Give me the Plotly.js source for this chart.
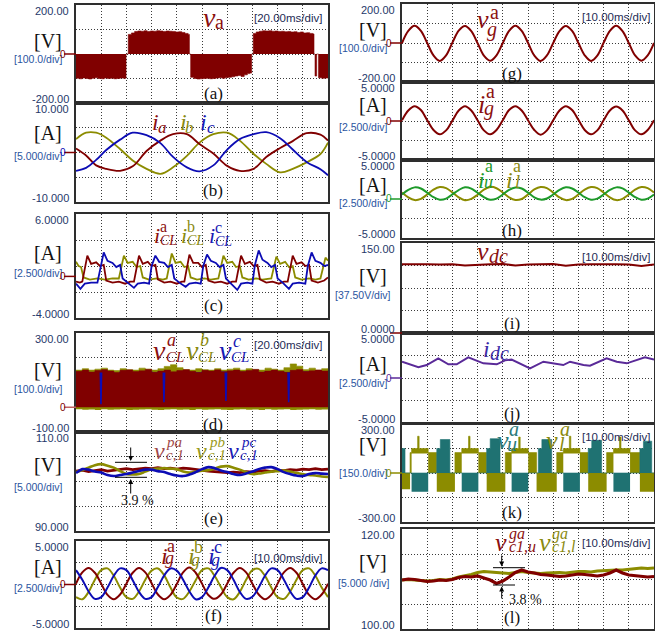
<!DOCTYPE html>
<html><head><meta charset="utf-8">
<script src="https://cdn.plot.ly/plotly-3.0.1.min.js"></script>
<style>html,body{margin:0;padding:0;background:#fff;}#chart{width:655px;height:631px;}</style>
</head><body><div id="chart"></div>
<script>
// ================= DATA =================
// (a) phase voltage v_a envelope of the PWM band [ms, V]
const vaT = [0,2.5,5,7.5,10,12.5,15,17.5,20,22.5,25,27.5,30,32.5,35,37.5,39.7,
  41.5,44,46.5,49,51.5,54,56.5,59,61.5,64,66.5,69,71.5,74,76.5,79,81.5,84,86.5,89,90,
  91,93.5,96,98.5,101,103.5,106,108.5,111,113.5,116,118.5,121,123.5,126,128.5,131,133.5,136,138,139.4,
  140.7,143,145.5,148,150.5,153,155.5,158,160.5,163,165.5,168,170.5,173,175.5,178,180.5,183,185.5,188,188.9,
  189.7,191,192.5,195,197.5,200];
const vaV = [-99,-101,-98,-100,-102,-99,-97,-100,-101,-98,-100,-99,-101,-100,-98,-99,0,
  80,86,92,94,93,95,92,94,93,95,94,92,94,93,92,90,91,88,84,80,0,
  -95,-100,-102,-101,-100,-99,-101,-100,-98,-97,-99,-96,-95,-93,-90,-88,-92,-85,-80,-78,0,
  84,90,93,95,94,95,93,94,92,93,91,92,90,91,88,90,86,87,84,82,0,
  -90,0,-97,-99,-98,-98];
// (b) converter currents [ms, A]
const bT  = [0,8,16,24,35,45,56,67,77,88,98,109,120,130,141,151,162,172,183,194,200];
const iaB = [0.8,-0.6,-2.6,-3.3,-3.7,-2.8,0.3,2.4,3.7,3.7,1.7,-0.2,-2.7,-3.7,-3.3,-0.9,0.9,2.3,3.9,3.6,2.4];
const ibB = [2.7,4.0,4.0,3.0,0.7,-1.6,-3.3,-4.3,-3.0,-0.7,2.0,3.7,4.0,2.4,-0.3,-2.3,-4.0,-3.3,-2.0,-0.3,2.0];
const icB = [-3.7,-3.1,-1.5,0.5,2.6,4.0,3.5,1.9,-0.9,-3.0,-3.8,-2.6,0.6,2.7,3.7,4.1,2.9,0.6,-1.9,-3.4,-4.6];
// (c) CL currents [ms, A]
const cTa  = [0,3,5,9,12,16,19,22,24,29,34,39,43,46,50,53,57,60,63,65,70,75,80,84,86,90,93,97,100,103,105,110,115,120,124,127,131,134,138,141,144,146,151,156,161,165,168,172,175,179,182,185,187,192,197,200];
const iCLa = [-0.5,-0.6,-0.5,2.0,1.2,1.35,1.0,1.1,-0.4,-0.6,-0.5,-0.7,-0.5,-0.5,2.0,1.2,1.4,1.0,1.1,-0.3,-0.6,-0.5,-0.7,-0.5,-0.5,2.1,1.3,1.3,0.9,1.1,-0.4,-0.6,-0.5,-0.7,-0.5,-0.5,2.0,1.2,1.4,1.0,1.1,-0.3,-0.6,-0.5,-0.7,-0.5,-0.5,2.0,1.2,1.35,1.0,1.1,-0.4,-0.6,-0.4,-0.1];
const cTb  = [0,2,4,6,11,17,23,29,34,38,41,45,48,51,53,58,64,69,72,76,79,83,86,89,91,96,102,107,113,117,120,124,127,130,132,137,143,148,155,159,162,166,169,172,174,179,185,190,194,198,200];
const iCLb = [1.4,1.0,0.9,-0.1,-0.3,-0.2,-0.3,-0.2,-0.2,2.0,1.3,1.4,0.9,1.0,-0.1,-0.3,-0.2,-0.3,-0.2,2.2,1.3,1.4,0.9,1.0,-0.1,-0.3,-0.2,-0.3,-0.2,2.0,1.3,1.4,0.9,1.0,-0.1,-0.3,-0.2,-0.3,-0.2,1.9,1.2,1.4,0.9,1.0,-0.1,-0.3,-0.2,-0.3,-0.2,1.8,1.5];
const cTc  = [0,3.5,7,12,17,20,22,25,29,32,35,37,41,46,49,54,58,60,63,66,70,73,76,78,82,87,90,95,99,101,104,107,111,114,117,119,123,128,131,136,140,142,145,148,152,155,158,160,164,169,172,177,182,184,187,190,194,197,200];
const iCLc = [-0.7,-1.2,-0.7,-0.6,-0.6,1.0,2.3,1.5,1.3,0.9,1.1,-0.2,-0.6,-1.1,-0.7,-0.6,-0.7,1.0,2.0,1.4,1.3,0.9,1.1,-0.2,-0.6,-1.0,-0.7,-0.6,-0.7,1.0,2.1,1.5,1.3,0.9,1.1,-0.2,-0.7,-1.3,-0.7,-0.6,-0.7,1.1,2.5,1.6,1.3,0.9,1.1,-0.2,-0.6,-1.2,-0.7,-0.6,-0.7,1.0,2.3,1.5,1.3,1.0,1.1];
// (d) CL voltages (PWM bands) [ms, V]
const dT = [0,5,10,15,20,25,30,35,40,45,50,55,60,65,70,75,80,85,90,95,100,105,110,115,120,125,130,135,140,145,150,155,160,165,170,175,180,185,190,195,200];
const vCLaTop = [145,150,142,148,152,146,140,149,151,144,147,153,141,146,150,143,148,152,145,140,149,146,151,143,147,150,144,148,153,142,146,150,145,141,149,152,144,147,150,146,148];
const vCLbTop = [150,156,150,154,158,150,148,156,152,150,158,154,150,156,165,172,160,152,150,156,152,150,156,150,154,158,150,156,152,150,158,154,150,160,175,166,152,158,150,156,152];
const vCLbBot = [-8,-10,-9,-11,-8,-10,-9,-8,-11,-10,-9,-8,-10,-11,-9,-8,-10,-9,-11,-8,-10,-9,-8,-10,-11,-9,-8,-10,-9,-11,-8,-10,-9,-8,-11,-10,-9,-8,-10,-9,-10];
const vCLc    = [138,140,136,139,141,137,135,140,138,136,139,141,137,140,138,135,139,141,136,138,140,137,139,141,138,136,140,138,135,139,141,137,140,138,136,139,141,137,138,140,139];
const vCLcSpkT = [19.3,19.8,20.3,null,69.3,69.8,70.3,null,118.5,119,119.5,null,168.3,168.8,169.3];
const vCLcSpkV = [140,12,140,null,140,20,140,null,140,25,140,null,140,20,140];
// (e) capacitor voltages [ms, V]
const eT = dT;
const vPa = [102.1,102.3,102.0,102.2,102.4,102.1,102.3,102.5,102.6,102.4,102.5,102.7,102.6,102.8,102.6,102.7,102.5,102.7,102.6,102.4,102.3,102.1,102.0,101.9,101.8,101.9,101.8,102.0,101.9,102.1,102.2,102.0,102.3,102.2,102.4,102.3,102.5,102.4,102.6,102.4,102.5];
const vPb = [101.9,102.3,102.8,103.3,103.5,103.2,102.8,102.1,101.5,101.4,101.5,102.0,102.5,102.6,102.7,102.6,102.5,102.0,101.8,102.0,102.2,102.3,102.6,103.0,103.1,102.8,102.4,101.9,101.5,101.6,101.8,102.0,102.1,102.2,102.0,101.7,101.5,101.3,101.2,101.0,100.9];
const vPc = [101.7,102.5,102.4,102.0,101.8,101.3,101.1,101.3,101.5,101.8,102.1,102.4,102.4,102.1,101.9,101.5,101.2,101.1,101.4,101.9,102.5,102.9,102.7,102.2,101.9,101.5,101.3,101.6,102.0,102.5,102.8,102.9,102.5,101.9,101.5,101.2,101.1,101.5,101.7,101.6,101.5];
// (f) grid currents [ms, A]
const fT = [0,2.5,5,7.5,10,12.5,15,17.5,20,22.5,25,27.5,30,32.5,35,37.5,40,42.5,45,47.5,50,52.5,55,57.5,60,62.5,65,67.5,70,72.5,75,77.5,80,82.5,85,87.5,90,92.5,95,97.5,100];
const igA = [0.1,1.4,1.9,1.35,0.1,-1.2,-1.7,-1.15,0.1,1.35,1.9,1.4,0.15,-1.15,-1.7,-1.2,0.05,1.4,1.95,1.35,0.1,-1.2,-1.65,-1.15,0.1,1.35,1.9,1.4,0.1,-1.15,-1.7,-1.2,0.1,1.4,1.9,1.35,0.05,-1.2,-1.7,-1.15,0.1];
const igB = [-1.45,-1.7,-0.85,0.55,1.65,1.85,1.0,-0.35,-1.45,-1.65,-0.8,0.55,1.6,1.85,1.05,-0.35,-1.5,-1.65,-0.8,0.5,1.65,1.85,1.0,-0.3,-1.45,-1.7,-0.85,0.55,1.65,1.8,1.0,-0.35,-1.45,-1.65,-0.8,0.55,1.65,1.85,1.0,-0.35,-1.45];
const igC = [1.65,0.55,-0.8,-1.65,-1.45,-0.35,1.0,1.85,1.65,0.5,-0.85,-1.65,-1.45,-0.3,1.05,1.85,1.6,0.55,-0.8,-1.7,-1.45,-0.35,1.0,1.9,1.65,0.55,-0.85,-1.65,-1.4,-0.35,1.0,1.85,1.65,0.55,-0.8,-1.65,-1.45,-0.35,1.05,1.85,1.65];
// (g) grid voltage and current, phase a [ms]
const gT = fT;
const vgA  = [0,62,88,62,0,-64,-92,-64,2,63,87,61,-1,-65,-91,-63,0,62,88,62,1,-64,-92,-64,0,61,87,62,0,-63,-92,-65,1,62,88,61,0,-64,-91,-64,0];
const igRA = [0.1,1.35,1.9,1.4,0.1,-1.15,-1.7,-1.2,0.05,1.35,1.9,1.35,0.1,-1.2,-1.7,-1.15,0.1,1.4,1.9,1.35,0.1,-1.15,-1.75,-1.2,0.1,1.35,1.9,1.4,0.15,-1.15,-1.7,-1.2,0.1,1.35,1.85,1.35,0.1,-1.2,-1.7,-1.15,0.1];
// (h) arm currents [ms, A]
const iuA = [0.58,1.17,1.49,1.35,0.82,0.23,-0.09,0.05,0.6,1.15,1.5,1.33,0.8,0.25,-0.1,0.05,0.58,1.18,1.48,1.35,0.82,0.22,-0.08,0.06,0.57,1.17,1.5,1.35,0.83,0.23,-0.09,0.04,0.58,1.16,1.49,1.36,0.82,0.24,-0.09,0.05,0.58];
const ilA = [0.83,0.2,-0.14,0.01,0.57,1.2,1.54,1.39,0.85,0.22,-0.15,0.02,0.55,1.2,1.55,1.38,0.83,0.2,-0.13,0.0,0.57,1.22,1.54,1.4,0.82,0.2,-0.14,0.01,0.58,1.2,1.53,1.39,0.83,0.21,-0.14,0.02,0.57,1.2,1.54,1.39,0.83];
// (i) dc voltage [ms, V]
const iT  = [0,5,10,15,20,25,30,35,40,45,50,55,60,65,70,75,80,85,90,95,100];
const vdc = [114.5,115,114.5,114,114.5,112.5,114,114.5,115,112.5,114,114.5,115,112,114,114.5,115,114.5,114,111.5,114];
// (j) dc current [ms, A]
const jT  = [0,6.5,9.8,14.4,18.4,21.7,26.3,32.3,37.6,40.9,43.5,50.8,56.1,60.1,64,66.7,72,74.6,81.2,85.2,89.2,96.4,100];
const idc = [1.81,1.19,1.44,2.19,1.52,1.52,2.3,1.63,1.52,1.96,2.04,1.07,1.81,1.63,1.44,1.81,1.44,1.37,2.19,1.81,1.63,2.3,2.04];
// (k) arm voltages (PWM blocks) [ms, V]
const kTu  = [0,1.2,3.8,10.4,13.8,15.2,19.0,23.7,30.3,33.6,35.0,38.9,43.5,50.1,54.1,55.5,59.4,64,70.6,73.9,75.3,79.2,83.9,90.5,94.4,95.8,99.1,100];
const vuHi = [150,0,0,0,150,205,0,0,0,150,210,0,0,0,150,205,0,0,0,150,200,0,0,0,150,195,0,0];
const vuLo = [0,0,-115,0,0,0,0,-115,0,0,0,0,-115,0,0,0,0,-115,0,0,0,0,-115,0,0,0,0,0];
const kTl  = [0,3.2,3.8,6.2,6.8,10.4,13.8,21,23.7,26.4,27,30.3,33.6,41,43.5,46.3,46.9,50.1,53.4,61.4,64,66.4,67,70.6,73.9,81.2,83.9,86.3,86.9,90.5,94.4,100];
const vlHi = [0,125,150,225,150,125,0,125,150,225,150,125,0,125,150,220,150,125,0,125,150,225,150,125,0,125,150,220,150,125,0,0];
const vlLo = [-100,0,120,120,120,0,-115,0,120,120,120,0,-115,0,120,120,120,0,-115,0,120,120,120,0,-115,0,120,120,120,0,-115,-115];
// (l) sub-module capacitor voltages [ms, V]
const lT = fT;
const vcu = [109.8,110.0,109.9,109.7,109.5,109.6,109.8,109.7,109.9,110.3,110.5,110.4,110.6,110.2,109.8,109.1,109.6,110.4,111.3,111.8,111.4,111.2,110.9,110.8,110.7,110.5,110.6,110.8,111.0,110.9,110.7,110.6,110.8,111.2,111.8,111.2,110.8,110.7,110.6,110.4,110.5];
const vcl = [109.8,109.9,109.8,109.7,109.6,109.7,109.9,109.8,110.0,110.4,110.6,110.9,111.3,111.5,111.4,111.3,111.2,111.1,111.3,111.5,111.3,111.2,111.1,111.2,111.3,111.3,111.2,111.4,111.5,111.5,111.4,111.6,111.7,111.7,111.8,111.8,111.9,112.0,112.2,112.1,112.2];

// tick / scale / unit labels
const yTopLabels = ['200.00','10.000','6.0000','300.00','110.00','5.0000','200.00','5.0000','5.0000','150.00','5.0000','300.00','120.00'];
const yBotLabels = ['-200.00','-10.000','-4.0000','-100.00','90.000','-5.0000','-200.00','-5.0000','-5.0000','0.0000','-5.0000','-300.00','100.00'];
const unitLabels = ['[V]','[A]','[A]','[V]','[V]','[A]','[V]','[A]','[A]','[V]','[A]','[V]','[V]'];
const scaleLabels = ['[100.0/div]','[5.000/div]','[2.500/div]','[100.0/div]','[5.000/div]','[2.500/div]','[100.0/div]','[2.500/div]','[2.500/div]','[37.50V/div]','[2.500/div]','[150.0/div]','[5.000 /div]'];
const panelLetters = ['(a)','(b)','(c)','(d)','(e)','(f)','(g)','','(h)','(i)','(j)','(k)','(l)'];
const timeLabels = ['[20.00ms/div]','','','[20.00ms/div]','','[10.00ms/div]','[10.00ms/div]','','','[10.00ms/div]','','[10.00ms/div]','[10.00ms/div]'];

// ================= LAYOUT =================
const W=655,H=631;
const PX=x=>x/W, PY=y=>1-y/H;
const RED='#800000', OLV='#8c8c00', BLU='#0c0cb4', GRN='#1e9a2a', TEAL='#1f7272', PUR='#5a2a98';
const SERIF='Liberation Serif, Times New Roman, serif', SANS='Liberation Sans, Arial, sans-serif';
const COLX=[[76,328],[402,654]];
// panel geometry in pixels: column, top, bottom, y range, time span, unit-label y, scale-label y, letter y, time-label y
const PANELS=[
 {c:0,t:5,  b:103,y0:-200,y1:200,tm:200,uy:41, sy:59, ly:93, ty:18},
 {c:0,t:103,b:202,y0:-10, y1:10, tm:200,uy:133,sy:156,ly:190,ty:0},
 {c:0,t:214,b:318,y0:-4,  y1:6,  tm:200,uy:253,sy:273,ly:305,ty:0},
 {c:0,t:333,b:432,y0:-100,y1:300,tm:200,uy:370,sy:389,ly:425,ty:345},
 {c:0,t:432,b:531,y0:90,  y1:110,tm:200,uy:465,sy:487,ly:518,ty:0},
 {c:0,t:541,b:628,y0:-5,  y1:5,  tm:100,uy:567,sy:588,ly:615,ty:558},
 {c:1,t:4,  b:82, y0:-200,y1:200,tm:100,uy:30, sy:48, ly:73, ty:17},
 {c:1,t:82, b:160,y0:-5,  y1:5,  tm:100,uy:105,sy:127,ly:0,  ty:0},
 {c:1,t:160,b:238,y0:-5,  y1:5,  tm:100,uy:185,sy:203,ly:230,ty:0},
 {c:1,t:243,b:333,y0:0,   y1:150,tm:100,uy:276,sy:295,ly:323,ty:257},
 {c:1,t:333,b:423,y0:-5,  y1:5,  tm:100,uy:364,sy:383,ly:413,ty:0},
 {c:1,t:424,b:522,y0:-300,y1:300,tm:100,uy:445,sy:473,ly:512,ty:437},
 {c:1,t:529,b:629,y0:100, y1:120,tm:100,uy:562,sy:583,ly:617,ty:543}
];
const layout={width:W,height:H,margin:{l:0,r:0,t:0,b:0},paper_bgcolor:'#fff',plot_bgcolor:'#fff',showlegend:false,shapes:[],annotations:[]};
const ax=n=>n===1?'':String(n);
function T(x,y,text,size,color,o){o=o||{};return {xref:'paper',yref:'paper',x:PX(x),y:PY(y),text:text,showarrow:false,xanchor:o.xa||'center',yanchor:'middle',font:{family:o.f||SANS,size:size,color:color}};}
const ann=layout.annotations, shp=layout.shapes;
PANELS.forEach((p,k)=>{
  const n=k+1, cx=COLX[p.c];
  const xt=[],yt=[];
  for(let i=1;i<10;i++) xt.push(p.tm*i/10);
  for(let i=1;i<4;i++) yt.push(p.y0+(p.y1-p.y0)*i/4);
  const common={showticklabels:false,ticks:'',showgrid:true,gridcolor:'#3a3a3a',griddash:'1px,2px',gridwidth:1,zeroline:false,showline:true,mirror:true,linecolor:'#2e2e2e',linewidth:1.6,fixedrange:true};
  layout['xaxis'+ax(n)]=Object.assign({domain:[PX(cx[0]),PX(cx[1])],range:[0,p.tm],anchor:'y'+ax(n),tickvals:xt},common);
  layout['yaxis'+ax(n)]=Object.assign({domain:[PY(p.b),PY(p.t)],range:[p.y0,p.y1],anchor:'x'+ax(n),tickvals:yt},common);
  const tx = p.c===0?71:397;
  ann.push(T(tx,p.t+6,yTopLabels[k],11,'#26386a',{xa:'right'}));
  ann.push(T(tx,p.b-4,yBotLabels[k],11,'#26386a',{xa:'right'}));
  const ux = p.c===0?48:373, sx = p.c===0?38:363;
  ann.push(T(ux,p.uy,unitLabels[k],20,'#111',{f:SERIF}));
  ann.push(T(sx,p.sy,scaleLabels[k],10.5,'#2a55a0'));
  if(panelLetters[k]) ann.push(T(p.c===0?213:512,p.ly,panelLetters[k],17,'#111',{f:SERIF}));
  if(timeLabels[k]) ann.push(T(p.c===0?324:652,p.ty,timeLabels[k],11.5,'#1e2b55',{xa:'right'}));
});
// zero-level markers at left of panels
const zeroMarks=[[1,RED,RED],[2,RED,BLU],[3,RED,RED],[4,'#c06060',RED],[6,RED,RED],[7,RED,RED],[8,RED,RED],[9,GRN,GRN],[10,RED,null],[11,PUR,PUR],[12,OLV,OLV]];
zeroMarks.forEach(([n,lc,tc])=>{
  const p=PANELS[n-1], cx=COLX[p.c][0];
  const yz=p.t+(p.y1-0)/(p.y1-p.y0)*(p.b-p.t);
  shp.push({type:'line',xref:'paper',yref:'paper',x0:PX(cx-12),x1:PX(cx),y0:PY(yz),y1:PY(yz),line:{color:lc,width:1.5}});
  if(tc) ann.push(T(cx-13,yz,'0',10,tc));
});

// ================= TRACES =================
const data=[];
function tr(n,x,y,color,width,shape,extra){
  return Object.assign({type:'scatter',mode:'lines',x:x,y:y,xaxis:'x'+ax(n),yaxis:'y'+ax(n),
    line:{color:color,width:width,shape:shape||'linear',smoothing:1},hoverinfo:'skip',showlegend:false},extra||{});
}
// (a)
data.push(tr(1,vaT,vaV,RED,0.6,'hv',{fill:'tozeroy',fillcolor:RED}));
// (b)
data.push(tr(2,bT,ibB,OLV,1.8,'spline'));
data.push(tr(2,bT,iaB,RED,1.8,'spline'));
data.push(tr(2,bT,icB,BLU,1.8,'spline'));
// (c)
data.push(tr(3,cTb,iCLb,OLV,1.8));
data.push(tr(3,cTa,iCLa,RED,1.8));
data.push(tr(3,cTc,iCLc,BLU,1.8));
// (d)
data.push(tr(4,dT,vCLbBot,OLV,0,'hv'));
data.push(tr(4,dT,vCLbTop,OLV,0.6,'hv',{fill:'tonexty',fillcolor:OLV}));
data.push(tr(4,dT,vCLc,BLU,1.6,'hv'));
data.push(tr(4,dT,vCLaTop,RED,0.6,'hv',{fill:'tozeroy',fillcolor:RED}));
data.push(tr(4,vCLcSpkT,vCLcSpkV,BLU,1.6,'linear',{connectgaps:false}));
// (e)
data.push(tr(5,eT,vPa,RED,2.6));
data.push(tr(5,eT,vPb,OLV,2.6,'spline'));
data.push(tr(5,eT,vPc,BLU,2.6,'spline'));
// (f)
data.push(tr(6,fT,igB,OLV,2,'spline'));
data.push(tr(6,fT,igA,RED,2,'spline'));
data.push(tr(6,fT,igC,BLU,2,'spline'));
// (g)
data.push(tr(7,gT,vgA,RED,2,'spline'));
data.push(tr(8,gT,igRA,RED,2,'spline'));
// (h)
data.push(tr(9,gT,ilA,OLV,2,'spline'));
data.push(tr(9,gT,iuA,GRN,2,'spline'));
// (i)
data.push(tr(10,iT,vdc,RED,2));
// (j)
data.push(tr(11,jT,idc,PUR,2));
// (k)
data.push(tr(12,kTl,vlLo,OLV,0,'hv'));
data.push(tr(12,kTl,vlHi,OLV,0.6,'hv',{fill:'tonexty',fillcolor:OLV}));
data.push(tr(12,kTu,vuLo,TEAL,0,'hv'));
data.push(tr(12,kTu,vuHi,TEAL,0.6,'hv',{fill:'tonexty',fillcolor:TEAL}));
// (l)
data.push(tr(13,lT,vcl,OLV,3.2));
data.push(tr(13,lT,vcu,RED,3.2));

// ================= SERIES LABELS =================
function L(x,y,t,size,color,it){ann.push(T(x,y,it===false?t:'<i>'+t+'</i>',size,color,{xa:'left',f:SERIF}));}
function U(x,y,t,size,color){L(x,y,t,size,color,false);}
const LR='#8b1010', LO='#8a8a10', LB='#1a1ab4';
// (a)
L(201,17,'v',28,LR); U(213,22,'a',20,LR);
// (b)
L(150,122,'i',24,LR); L(156,127,'a',17,LR);
L(178,122,'i',24,LO); L(183,127,'b',17,LO);
L(198,122,'i',24,LB); L(205,127,'c',17,LB);
// (c)
L(152,235,'i',22,LR); U(158,226,'a',16,LR); L(158,240,'CL',14,LR);
L(179,235,'i',22,LO); U(185,226,'b',16,LO); L(185,240,'CL',14,LO);
L(207,235,'i',22,LB); U(213,227,'c',16,LB); L(213,241,'CL',14,LB);
// (d)
L(151,350,'v',28,LR); L(165,340,'a',18,LR); L(164,357,'CL',15,LR);
L(184,350,'v',28,LO); L(198,340,'b',18,LO); L(196,357,'CL',15,LO);
L(217,350,'v',28,LB); L(231,341,'c',18,LB); L(229,357,'CL',15,LB);
// (e)
L(152,451,'v',24,'#a04848'); L(164,442,'pa',15,'#a04848'); L(164,455,'c,1',15,'#a04848');
L(194,451,'v',24,'#9a9a20'); L(207,442,'pb',15,'#9a9a20'); L(206,455,'c,1',15,'#9a9a20');
L(226,451,'v',24,LB); L(239,442,'pc',15,LB); L(238,455,'c,1',15,LB);
// (f)
L(159,556,'i',24,LR); U(165,546,'a',18,LR); L(163,558,'g',18,LR);
L(186,556,'i',24,LO); U(192,547,'b',18,LO); L(189,560,'g',18,LO);
L(206,556,'i',24,LB); U(212,547,'c',18,LB); L(209,560,'g',18,LB);
// (g)
L(475,20,'v',26,LR); U(488,12,'a',20,LR); L(485,29,'g',20,LR);
L(476,105,'i',26,LR); U(484,91,'a',20,LR); L(482,108,'g',20,LR);
// (h)
L(476,180,'i',24,GRN); U(483,166,'a',18,GRN); L(482,182,'u',18,GRN);
L(504,180,'i',24,LO); U(511,166,'a',18,LO); L(513,182,'l',18,LO);
// (i)
L(475,251,'v',26,LR); L(487,256,'dc',20,LR);
// (j)
L(481,349,'i',24,'#3b2ca8'); L(488,353,'dc',20,'#3b2ca8');
// (k)
L(495,440,'v',26,'#2a7a7a'); L(507,429,'a',20,'#2a7a7a'); L(505,444,'u',20,'#2a7a7a');
L(544,440,'v',26,LO); L(558,429,'a',20,LO); L(557,444,'l',20,LO);
// (l)
L(493,542,'v',26,LR); L(507,534,'ga',16,LR); L(507,546,'c1,u',16,LR);
L(537,542,'v',26,LO); L(550,534,'ga',16,LO); L(550,546,'c1,l',16,LO);

// ================= RIPPLE MARKERS =================
function hl(x0,x1,y){shp.push({type:'line',xref:'paper',yref:'paper',x0:PX(x0),x1:PX(x1),y0:PY(y),y1:PY(y),line:{color:'#000',width:1}});}
function arr(x,yHead,yTail){ann.push({xref:'paper',yref:'paper',x:PX(x),y:PY(yHead),ax:0,ay:yTail-yHead,text:'',showarrow:true,arrowhead:2,arrowsize:1,arrowwidth:1,arrowcolor:'#000'});}
hl(115,147,462.3); hl(115,147,477.3); arr(130.7,461,446); arr(130.7,479,495);
ann.push(T(137,500,'3.9 %',14,'#111',{f:SERIF}));
hl(493,525,567.7); hl(493,515,585); arr(501.7,566.5,554); arr(501.7,586.5,600);
ann.push(T(525,599,'3.8 %',14,'#111',{f:SERIF}));

Plotly.newPlot('chart',data,layout,{staticPlot:true,displayModeBar:false});
</script>
</body></html>
